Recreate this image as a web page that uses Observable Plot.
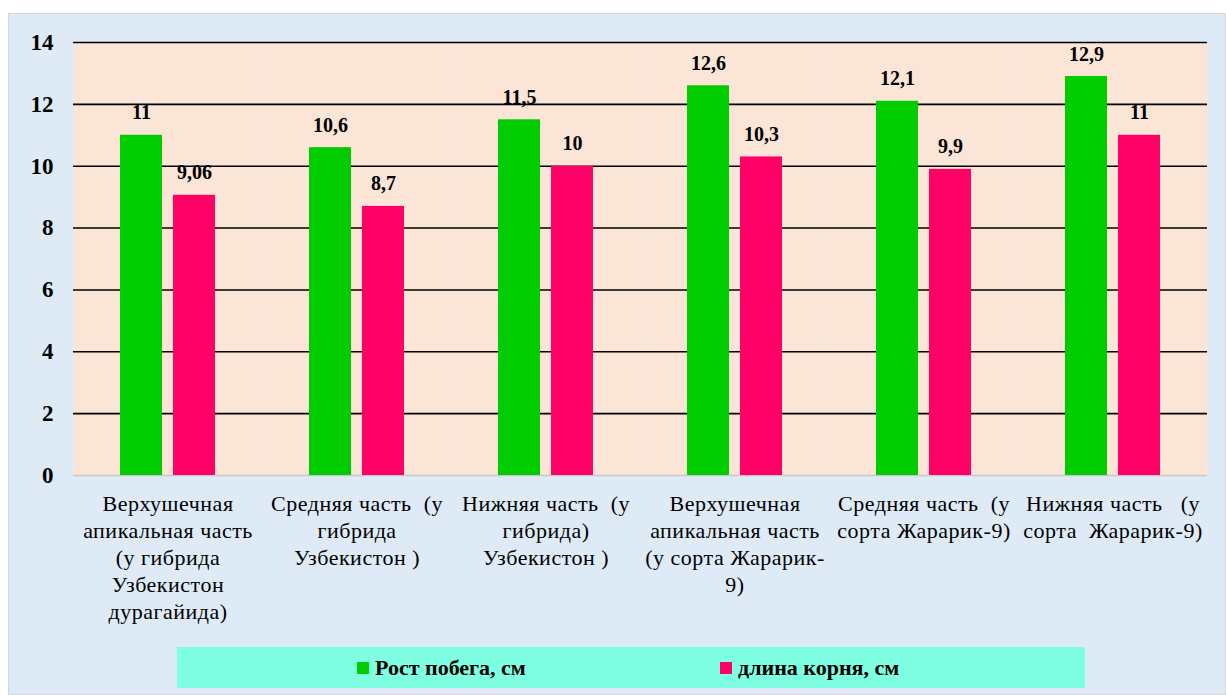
<!DOCTYPE html>
<html><head><meta charset="utf-8">
<script src="https://cdn.jsdelivr.net/npm/d3@7"></script>
<script src="https://cdn.jsdelivr.net/npm/@observablehq/plot@0.6"></script>
<style>
body{margin:0;background:#fff;width:1226px;height:695px;overflow:hidden;position:relative;font-family:"Liberation Serif","Tinos","Times New Roman","Noto Serif","FreeSerif","Nimbus Roman","Times","DejaVu Serif",serif;}
#panel{position:absolute;left:8px;top:13px;width:1216px;height:680px;background:#DEEBF7;border:1px solid #d6d6d6;}
#chart{position:absolute;left:0;top:0;}
#chart svg text{white-space:pre;font-family:"Liberation Serif","Tinos","Times New Roman","Noto Serif","FreeSerif","Nimbus Roman","Times","DejaVu Serif",serif;}
#chart svg g[aria-label="fx-axis tick label"] text{letter-spacing:0.5px;}
#legend{position:absolute;left:168px;top:633px;width:908px;height:41px;background:#7FFFE2;}
.item{position:absolute;top:0;height:41px;line-height:41px;font-weight:bold;font-size:22px;white-space:nowrap;color:#000;}
.sw{display:inline-block;width:12px;height:12px;margin-right:6px;vertical-align:middle;position:relative;top:-2px;}
</style>
</head><body>
<div id="panel"><div id="chart"></div><div id="legend"></div></div>
<script>
const categories = [
  "Верхушечная\nапикальная часть\n(у гибрида\nУзбекистон\nдурагайида)",
  "Средняя часть  (у\nгибрида\nУзбекистон )",
  "Нижняя часть  (у\nгибрида)\nУзбекистон )",
  "Верхушечная\nапикальная часть\n(у сорта Жарарик-\n9)",
  "Средняя часть  (у\nсорта Жарарик-9)",
  "Нижняя часть   (у\nсорта  Жарарик-9)"
];
const seriesNames = ["Рост побега, см", "длина корня, см"];
const shootGrowth = [11, 10.6, 11.5, 12.6, 12.1, 12.9];
const rootLength = [9.06, 8.7, 10, 10.3, 9.9, 11];
const yTicks = [0, 2, 4, 6, 8, 10, 12, 14];
const colors = ["#00CC00", "#FF0066"];

const rows = categories.flatMap((c, i) => [
  {cat: c, series: seriesNames[0], value: shootGrowth[i]},
  {cat: c, series: seriesNames[1], value: rootLength[i]}
]);
const fmt = v => String(v).replace(".", ",");
const serif = "'Liberation Serif','Tinos','Times New Roman','Noto Serif','FreeSerif','Nimbus Roman','Times','DejaVu Serif',serif";

const chart = Plot.plot({
  width: 1216, height: 620,
  marginTop: 28, marginLeft: 61, marginRight: 16, marginBottom: 159,
  style: {background: "transparent", fontFamily: serif, color: "#000", overflow: "visible"},
  fx: {domain: categories, padding: 0, label: null},
  x: {domain: seriesNames, paddingInner: 0.2, paddingOuter: 0.88, axis: null},
  y: {domain: [0, 14], label: null},
  color: {domain: seriesNames, range: colors},
  marks: [
    Plot.frame({fill: "#FBE5D6", stroke: null}),
    Plot.ruleY(yTicks.filter(d => d > 0), {stroke: "#000", strokeWidth: 1.6}),
    Plot.ruleY([0], {stroke: "#c8c8c8", strokeWidth: 1.5}),
    Plot.barY(rows, {fx: "cat", x: "series", y: "value", fill: "series"}),
    Plot.text(rows, {fx: "cat", x: "series", y: "value", text: d => fmt(d.value),
      lineAnchor: "bottom", dy: -16, fontWeight: "bold", fontSize: 20, fill: "#000"}),
    Plot.axisY({ticks: yTicks, tickSize: 0, tickPadding: 20, fontWeight: "bold", fontSize: 23, label: null}),
    Plot.axisFx({anchor: "bottom", tickSize: 0, tickPadding: 16, fontSize: 22, lineHeight: 1.23, label: null})
  ]
});
document.getElementById("chart").appendChild(chart);

const legend = document.getElementById("legend");
const legendX = [180, 543];
seriesNames.forEach((s, i) => {
  const d = document.createElement("div");
  d.className = "item";
  d.style.left = legendX[i] + "px";
  d.innerHTML = `<span class="sw" style="background:${colors[i]}"></span>${s}`;
  legend.appendChild(d);
});
</script>
</body></html>
